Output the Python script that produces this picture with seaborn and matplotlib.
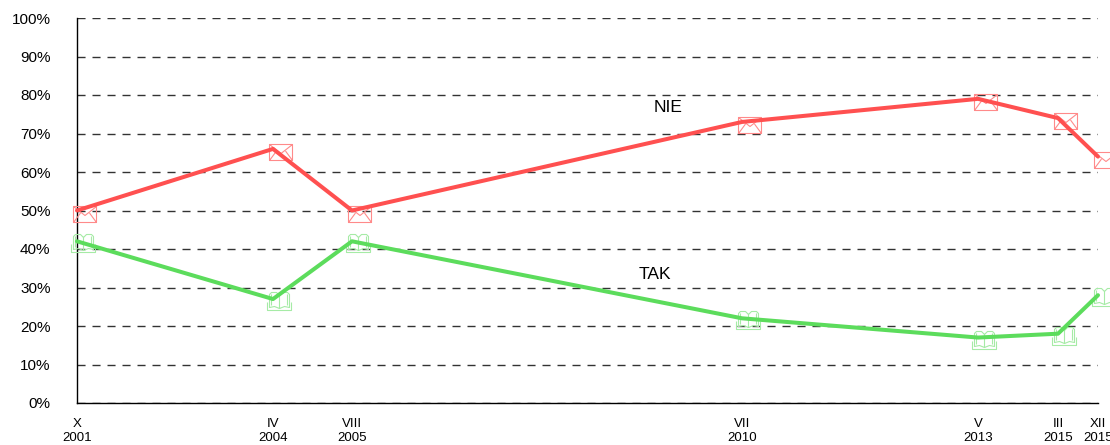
import matplotlib
matplotlib.use("Agg")
import matplotlib.pyplot as plt
import seaborn as sns
import numpy as np
import pandas as pd
from matplotlib.path import Path
from matplotlib.markers import MarkerStyle

# ---- data ----
months = ["X", "IV", "VIII", "VII", "V", "III", "XII"]
years = ["2001", "2004", "2005", "2010", "2013", "2015", "2015"]
x_time = [0, 196, 275, 665, 901, 981, 1021]   # axis positions
nie = [50, 66, 50, 73, 79, 74, 64]
tak = [42, 27, 42, 22, 17, 18, 28]
y_ticks = [0, 10, 20, 30, 40, 50, 60, 70, 80, 90, 100]

sns.set_theme(style="white")
plt.rcParams['font.family'] = ['Liberation Sans', 'DejaVu Sans']

fig = plt.figure(figsize=(11.1, 4.45), dpi=100)
ax = fig.add_axes([77/1110, 1 - 403/445, (1098 - 77)/1110, (403 - 18)/445])

# ---- custom icon markers ----
def envelope_marker():
    v = [(-4, 5), (19, 5), (19, -11), (-4, -11), (-4, 5),
         (-4, 5), (7.5, -4), (19, 5),
         (-4, -11), (3, -1.5),
         (19, -11), (12, -1.5)]
    c = [Path.MOVETO, Path.LINETO, Path.LINETO, Path.LINETO, Path.CLOSEPOLY,
         Path.MOVETO, Path.LINETO, Path.LINETO,
         Path.MOVETO, Path.LINETO,
         Path.MOVETO, Path.LINETO]
    return MarkerStyle(Path(v, c))

def book_marker():
    v = [
        (-6, -3), (-6, -11), (18, -11), (18, -3),
        (-4, -8), (-4, 5), (-2, 7), (3, 7), (6, 4),
        (6, 4), (9, 7), (14, 7), (16, 5), (16, -8),
        (6, 4), (6, -9),
        (-4, -8), (1, -7), (6, -9), (11, -7), (16, -8),
        (-2, -6), (-2, 5), (14, -6), (14, 5),
    ]
    c = [Path.MOVETO, Path.LINETO, Path.LINETO, Path.LINETO,
         Path.MOVETO, Path.LINETO, Path.LINETO, Path.LINETO, Path.LINETO,
         Path.MOVETO, Path.LINETO, Path.LINETO, Path.LINETO, Path.LINETO,
         Path.MOVETO, Path.LINETO,
         Path.MOVETO, Path.LINETO, Path.LINETO, Path.LINETO, Path.LINETO,
         Path.MOVETO, Path.LINETO, Path.MOVETO, Path.LINETO]
    return MarkerStyle(Path(v, c))

px = 72 / 100.0
red_line, red_mark = "#ff5050", "#ff8a8a"
green_line, green_mark = "#5cdc5c", "#a6eba6"

df = pd.DataFrame({"x": x_time, "NIE": nie, "TAK": tak})

ax.plot(df["x"], df["NIE"], linestyle="none", marker=envelope_marker(),
        markersize=2 * 19 * px, markerfacecolor="none", markeredgecolor=red_mark,
        markeredgewidth=0.8, clip_on=False, zorder=3)
ax.plot(df["x"], df["TAK"], linestyle="none", marker=book_marker(),
        markersize=2 * 18 * px, markerfacecolor="none", markeredgecolor=green_mark,
        markeredgewidth=0.8, clip_on=False, zorder=3)

sns.lineplot(data=df, x="x", y="NIE", ax=ax, color=red_line, linewidth=2.9,
             zorder=4, clip_on=False)
sns.lineplot(data=df, x="x", y="TAK", ax=ax, color=green_line, linewidth=2.9,
             zorder=4, clip_on=False)

ax.text(x_time[3] - 74, 76.8, "NIE", ha="center", va="center", fontsize=12.5, color="black")
ax.text(x_time[3] - 87, 33.5, "TAK", ha="center", va="center", fontsize=12.5, color="black")

ax.set_xlim(x_time[0], x_time[-1])
ax.set_ylim(0, 100)
ax.set_yticks(y_ticks)
ax.set_yticklabels([f"{v}%" for v in y_ticks], fontsize=11)
ax.set_xticks(x_time)
ax.set_xticklabels([f"{m}\n{y}" for m, y in zip(months, years)], fontsize=9.5)
ax.tick_params(axis="y", length=0, pad=19, labelcolor="black")
ax.tick_params(axis="x", length=0, pad=11, labelcolor="black")
ax.set_xlabel("")
ax.set_ylabel("")

for v in y_ticks:
    ax.axhline(v, color="#333333", linewidth=1.0, linestyle=(0, (5.8, 5.0)), zorder=1)

for s in ["top", "right"]:
    ax.spines[s].set_visible(False)
ax.spines["left"].set_color("black")
ax.spines["left"].set_linewidth(1.0)
ax.spines["bottom"].set_color("black")
ax.spines["bottom"].set_linewidth(1.0)
ax.grid(False)

fig.savefig("out.png", dpi=100)
